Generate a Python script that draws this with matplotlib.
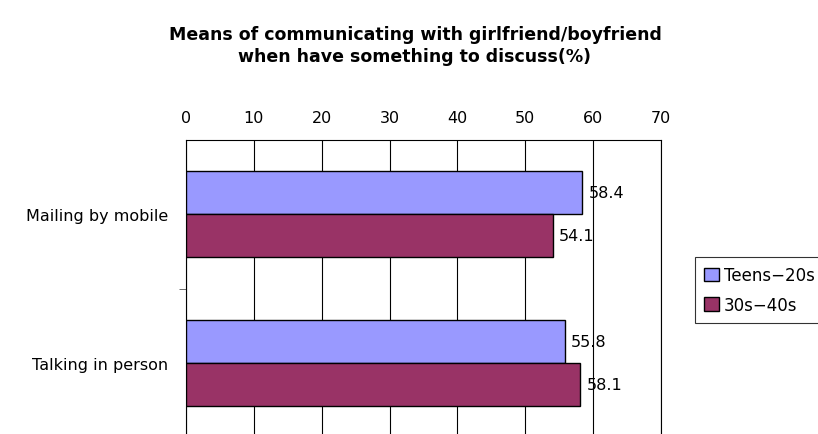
import matplotlib

matplotlib.use("Agg")
import matplotlib.pyplot as plt
import numpy as np

plt.rcParams["font.family"] = ["DejaVu Sans"]

categories = ["Mailing by mobile", "Talking in person"]
series = ["Teens\u221220s", "30s\u221240s"]
teens = [58.4, 55.8]
older = [54.1, 58.1]
colors = ["#9999FF", "#993366"]
xticks = [0, 10, 20, 30, 40, 50, 60, 70]

fig = plt.figure(figsize=(8.18, 4.35), dpi=100)
ax = fig.add_axes([186 / 818, 1 - 438 / 435, (661 - 186) / 818, 297 / 435])

y = np.arange(len(categories))
h = 0.29
for vals, off, col, lab in [(teens, -h / 2, colors[0], series[0]), (older, h / 2, colors[1], series[1])]:
    bars = ax.barh(y + off, vals, height=h, color=col, edgecolor="black", linewidth=1.0, label=lab, zorder=3)
    for b, v in zip(bars, vals):
        ax.text(v + 0.9, b.get_y() + b.get_height() / 2, f"{v:.1f}", va="center", ha="left", fontsize=11.5, zorder=4)

ax.set_xlim(0, 70)
ax.set_ylim(1.5, -0.5)
ax.set_xticks(xticks)
ax.xaxis.tick_top()
ax.tick_params(axis="x", length=0, pad=11, labelsize=11.5)
ax.set_yticks(y)
ax.set_yticklabels(categories, fontsize=11.5)
ax.set_yticks([0.5], minor=True)
ax.tick_params(axis="y", which="major", length=0, pad=13)
ax.tick_params(axis="y", which="minor", length=5, direction="out", color="#555555")
ax.grid(axis="x", color="black", linewidth=0.8, zorder=0)
for s in ax.spines.values():
    s.set_color("black")
    s.set_linewidth(0.8)

leg = fig.legend(loc="upper left", bbox_to_anchor=(695 / 818, 1 - 258 / 435), frameon=True, fancybox=False,
                 edgecolor="black", fontsize=12, handlelength=0.9, handleheight=0.9, handletextpad=0.3,
                 borderpad=0.55, labelspacing=0.7, borderaxespad=0)
leg.get_frame().set_linewidth(0.8)

fig.suptitle("Means of communicating with girlfriend/boyfriend\nwhen have something to discuss(%)",
             x=415 / 818, y=1 - 26 / 435, fontsize=12.5, fontweight="bold", linespacing=1.3)

fig.savefig("out.png", dpi=100)
